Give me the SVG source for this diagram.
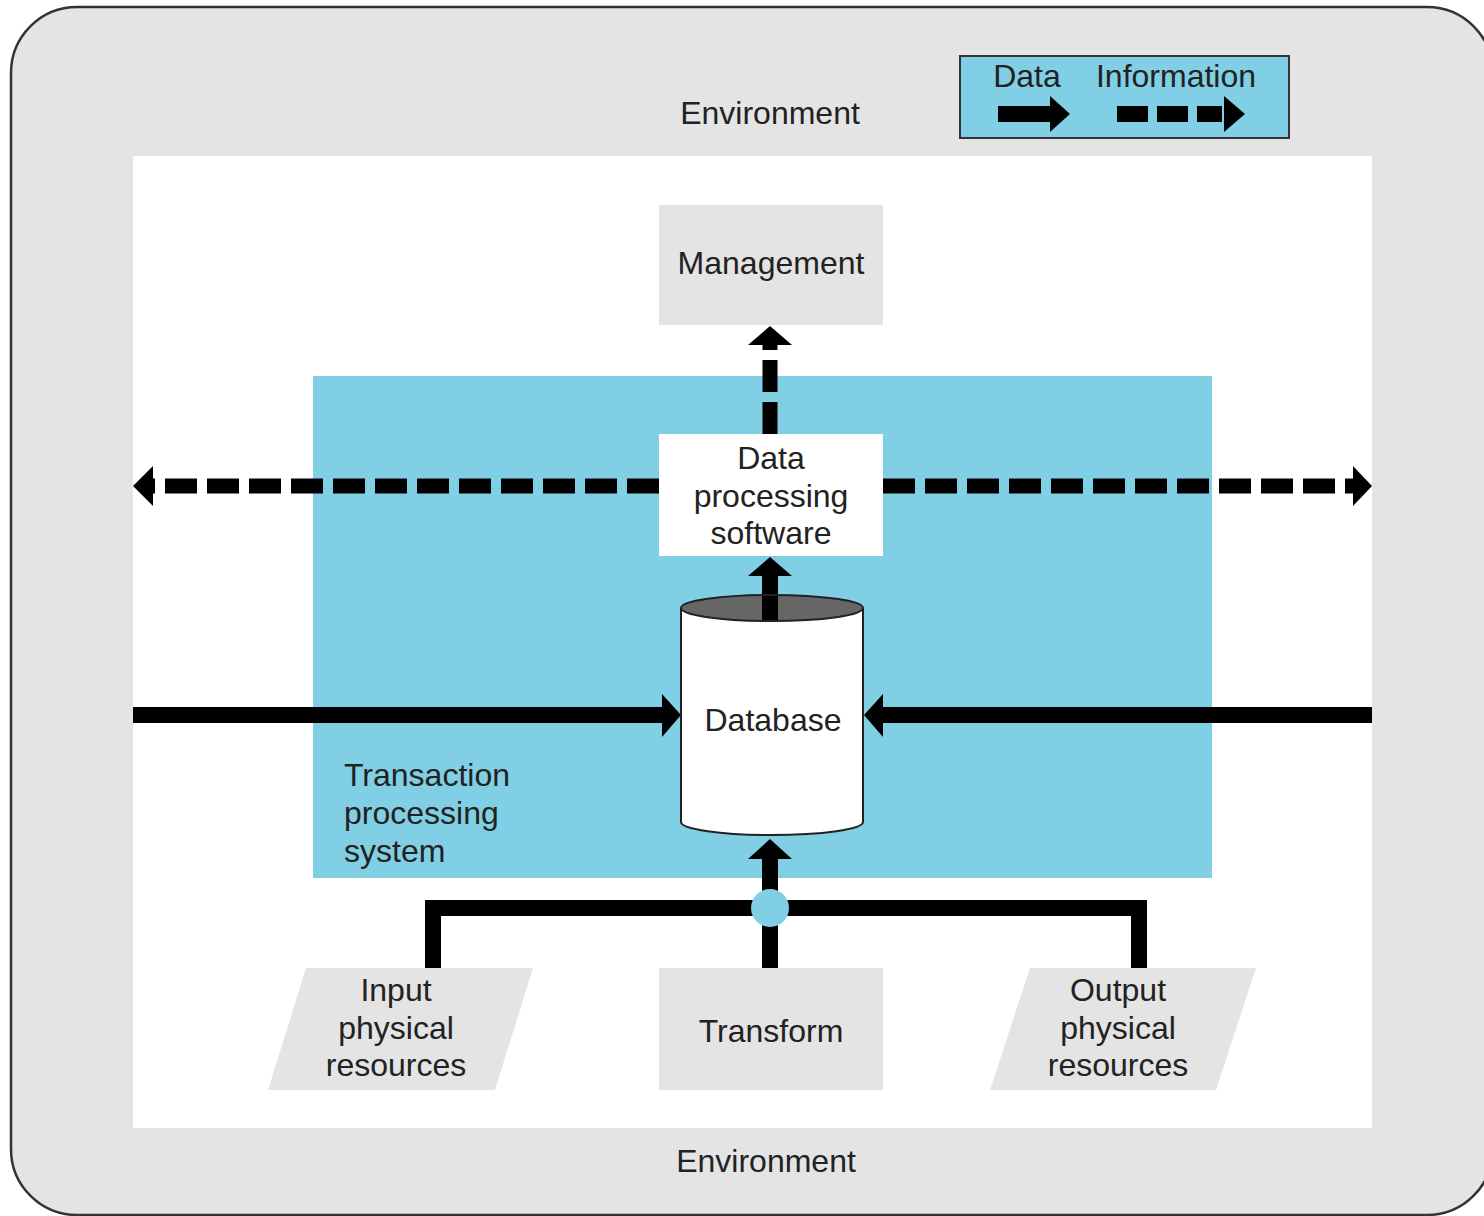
<svg xmlns="http://www.w3.org/2000/svg" width="1484" height="1216" viewBox="0 0 1484 1216">
<style>
  .t { font-family: "Liberation Sans", Arial, sans-serif; font-size: 32px; fill: #222; text-anchor: middle; }
  .tl { font-family: "Liberation Sans", Arial, sans-serif; font-size: 32px; fill: #222; text-anchor: start; }
  .gray { fill: #e4e4e4; }
  .solid { stroke: #000; stroke-width: 16; fill: none; }
  .dash { stroke: #000; stroke-width: 15; fill: none; stroke-dasharray: 32 10; }
  .head { fill: #000; }
</style>
<rect x="11" y="7" width="1482" height="1208" rx="66" ry="66" fill="#e4e4e4" stroke="#333" stroke-width="2.5"/>
<rect x="133" y="156" width="1239" height="972" fill="#fff"/>
<rect id="tps" x="313" y="376" width="899" height="502" fill="#80cfe4"/>

<text class="t" x="770" y="124">Environment</text>
<text class="t" x="766" y="1172">Environment</text>

<g id="legend">
  <rect x="960" y="56" width="329" height="82" fill="#80cfe4" stroke="#333" stroke-width="2"/>
  <text class="t" x="1027" y="87">Data</text>
  <text class="t" x="1176" y="87">Information</text>
  <line x1="998" y1="114" x2="1052" y2="114" class="solid"/>
  <polygon class="head" points="1050,96 1070,114 1050,132"/>
  <line x1="1117" y1="114" x2="1222" y2="114" class="solid" stroke-dasharray="31 9"/>
  <polygon class="head" points="1224,96 1245,114 1224,132"/>
</g>

<g id="connectors">
  <!-- DPS to Management dashed -->
  <line x1="770" y1="434" x2="770" y2="343" class="dash" stroke-dasharray="30 8"/>
  <polygon class="head" points="748,345 770,326 792,345"/>
  <!-- DB to DPS -->
  <line x1="770" y1="610" x2="770" y2="572" class="solid"/>
  <polygon class="head" points="748,576 770,557 792,576"/>
  <!-- dashed horizontal left -->
  <line x1="659" y1="486" x2="151" y2="486" class="dash"/>
  <polygon class="head" points="153,466 133,486 153,506"/>
  <!-- dashed horizontal right -->
  <line x1="883" y1="486" x2="1355" y2="486" class="dash"/>
  <polygon class="head" points="1353,466 1372,486 1353,506"/>
  <!-- solid horizontal left -->
  <line x1="133" y1="715" x2="665" y2="715" class="solid"/>
  <polygon class="head" points="662,694 681,715 662,737"/>
  <!-- solid horizontal right -->
  <line x1="1372" y1="715" x2="880" y2="715" class="solid"/>
  <polygon class="head" points="883,694 864,715 883,737"/>
  <!-- bottom tree -->
  <polyline points="433,968 433,908 1139,908 1139,968" class="solid" stroke-linejoin="miter"/>
  <line x1="770" y1="968" x2="770" y2="856" class="solid"/>
  <polygon class="head" points="748,859 770,839 792,859"/>
  <circle cx="770" cy="908" r="19" fill="#80cfe4"/>
</g>

<g id="management">
  <rect class="gray" x="659" y="205" width="224" height="120"/>
  <text class="t" x="771" y="274">Management</text>
</g>

<g id="dps">
  <rect x="659" y="434" width="224" height="122" fill="#fff"/>
  <text class="t" x="771" y="469">Data</text>
  <text class="t" x="771" y="507">processing</text>
  <text class="t" x="771" y="544">software</text>
</g>

<g id="database">
  <path d="M681,608 L681,822 A91,13 0 0 0 863,822 L863,608" fill="#fff" stroke="#222" stroke-width="2"/>
  <ellipse cx="772" cy="608" rx="91" ry="13" fill="#666" stroke="#222" stroke-width="2"/>
  <line x1="770" y1="596" x2="770" y2="620" class="solid"/>
  <text class="t" x="773" y="731">Database</text>
</g>

<g id="tps-label">
  <text class="tl" x="344" y="786">Transaction</text>
  <text class="tl" x="344" y="824">processing</text>
  <text class="tl" x="344" y="862">system</text>
</g>

<g id="input">
  <polygon class="gray" points="306,968 533,968 495,1090 268,1090"/>
  <text class="t" x="396" y="1001">Input</text>
  <text class="t" x="396" y="1039">physical</text>
  <text class="t" x="396" y="1076">resources</text>
</g>

<g id="transform">
  <rect class="gray" x="659" y="968" width="224" height="122"/>
  <text class="t" x="771" y="1042">Transform</text>
</g>

<g id="output">
  <polygon class="gray" points="1030,968 1256,968 1216,1090 990,1090"/>
  <text class="t" x="1118" y="1001">Output</text>
  <text class="t" x="1118" y="1039">physical</text>
  <text class="t" x="1118" y="1076">resources</text>
</g>
</svg>
